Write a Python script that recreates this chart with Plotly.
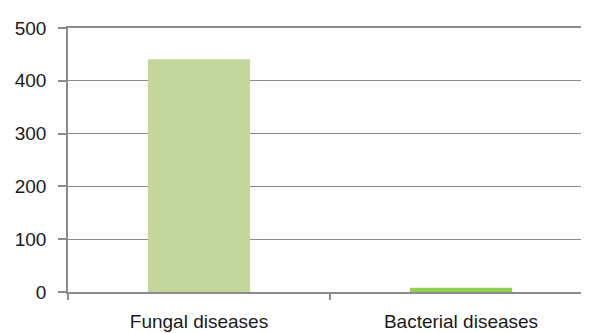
import plotly.graph_objects as go

categories = ["Fungal diseases", "Bacterial diseases"]
values = [441, 8]
bar_colors = ["#c4d79b", "#92d050"]

_GRID = "#8c8c8c"
_FONT = dict(family="Liberation Sans, Arial, sans-serif", size=19, color="#1a1a1a")

fig = go.Figure(go.Bar(
    x=categories,
    y=values,
    marker=dict(color=bar_colors, line=dict(width=0)),
    width=0.39,
))

# page body adds an 8px offset, so margins are shifted to compensate
fig.update_layout(
    width=589, height=333,
    paper_bgcolor="white", plot_bgcolor="white",
    font=_FONT,
    showlegend=False,
    margin=dict(l=60, r=5, t=20, b=49, autoexpand=False),
    xaxis=dict(
        type="category",
        automargin=False,
        showline=True, linecolor=_GRID, linewidth=1.5,
        mirror=True,
        ticks="outside", ticklen=6, tickcolor=_GRID, tickwidth=1.5,
        tickson="boundaries",
        showgrid=False,
        ticklabelstandoff=11,
    ),
    yaxis=dict(
        range=[0, 500], dtick=100,
        automargin=False,
        showline=True, linecolor=_GRID, linewidth=1.5,
        ticks="outside", ticklen=8, tickcolor=_GRID, tickwidth=1.5,
        showgrid=True, gridcolor=_GRID, gridwidth=1,
        zeroline=False,
        ticklabelstandoff=8,
    ),
)

fig.write_html("out.html")
